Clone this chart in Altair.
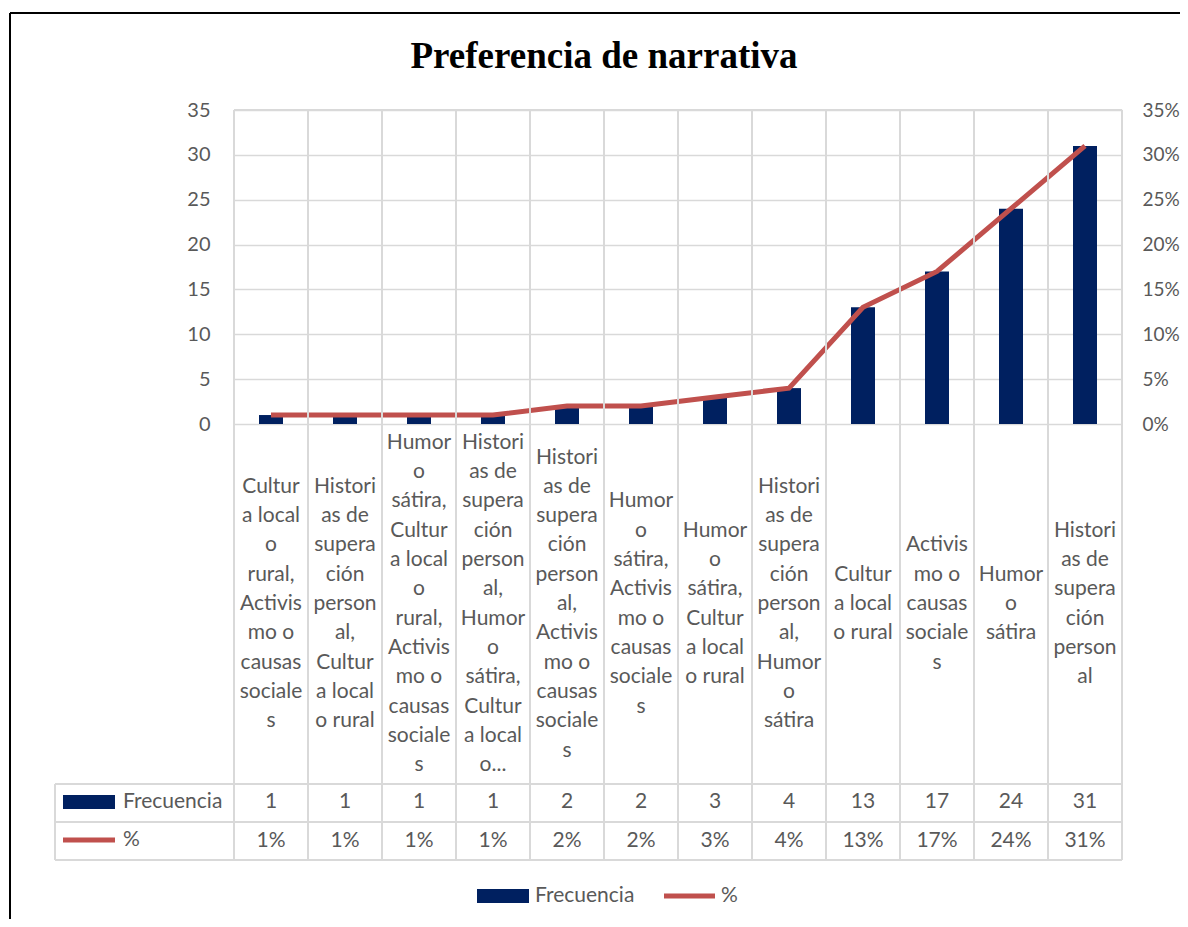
import altair as alt
import pandas as pd

categories = [
    "Cultura local o rural, Activismo o causas sociales",
    "Historias de superación personal, Cultura local o rural",
    "Humor o sátira, Cultura local o rural, Activismo o causas sociales",
    "Historias de superación personal, Humor o sátira, Cultura local o...",
    "Historias de superación personal, Activismo o causas sociales",
    "Humor o sátira, Activismo o causas sociales",
    "Humor o sátira, Cultura local o rural",
    "Historias de superación personal, Humor o sátira",
    "Cultura local o rural",
    "Activismo o causas sociales",
    "Humor o sátira",
    "Historias de superación personal",
]
label_lines = [
    ["Cultur", "a local", "o", "rural,", "Activis", "mo o", "causas", "sociale", "s"],
    ["Histori", "as de", "supera", "ción", "person", "al,", "Cultur", "a local", "o rural"],
    ["Humor", "o", "sátira,", "Cultur", "a local", "o", "rural,", "Activis", "mo o", "causas", "sociale", "s"],
    ["Histori", "as de", "supera", "ción", "person", "al,", "Humor", "o", "sátira,", "Cultur", "a local", "o..."],
    ["Histori", "as de", "supera", "ción", "person", "al,", "Activis", "mo o", "causas", "sociale", "s"],
    ["Humor", "o", "sátira,", "Activis", "mo o", "causas", "sociale", "s"],
    ["Humor", "o", "sátira,", "Cultur", "a local", "o rural"],
    ["Histori", "as de", "supera", "ción", "person", "al,", "Humor", "o", "sátira"],
    ["Cultur", "a local", "o rural"],
    ["Activis", "mo o", "causas", "sociale", "s"],
    ["Humor", "o", "sátira"],
    ["Histori", "as de", "supera", "ción", "person", "al"],
]
frecuencia = [1, 1, 1, 1, 2, 2, 3, 4, 13, 17, 24, 31]
porcentaje = [0.01, 0.01, 0.01, 0.01, 0.02, 0.02, 0.03, 0.04, 0.13, 0.17, 0.24, 0.31]
pct_labels = ["1%", "1%", "1%", "1%", "2%", "2%", "3%", "4%", "13%", "17%", "24%", "31%"]

df = pd.DataFrame({
    "cat": categories,
    "label": ["\n".join(l) for l in label_lines],
    "freq": frecuencia,
    "pct": porcentaje,
    "pct_label": pct_labels,
})

NAVY = "#002060"
RED = "#C0504D"
GRID = "#D9D9D9"
TXT = "#595959"
FONT = "Lato"
FS = 21
LH = 29.3

W, H = 888, 314

base = alt.Chart(df)
xenc = alt.X("cat:N", sort=categories,
             scale=alt.Scale(paddingInner=0, paddingOuter=0), axis=None)

bars = base.mark_bar(size=24, color=NAVY).encode(
    x=xenc,
    y=alt.Y("freq:Q", scale=alt.Scale(domain=[0, 35]),
            axis=alt.Axis(orient="left", values=list(range(0, 36, 5)), title=None,
                          grid=True, gridColor=GRID, gridWidth=1.3, domain=False,
                          ticks=False, labelPadding=24, labelFont=FONT,
                          labelFontSize=20, labelColor=TXT)),
)

line = base.mark_line(color=RED, strokeWidth=5).encode(
    x=xenc,
    y=alt.Y("pct:Q", scale=alt.Scale(domain=[0, 0.35]),
            axis=alt.Axis(orient="right", values=[i / 100 for i in range(0, 36, 5)],
                          format=".0%", title=None, grid=False, domain=False,
                          ticks=False, labelPadding=20, labelFont=FONT,
                          labelFontSize=19, labelColor=TXT)),
)

# category labels, block centred vertically in the label band (centre at 494 px)
cat_text = base.transform_calculate(
    nlines="length(split(datum.label, '\\n'))",
    ly=f"494 - (datum.nlines - 1) * {LH} / 2",
).mark_text(font=FONT, fontSize=FS, color=TXT, lineBreak="\n",
            lineHeight=LH, baseline="middle", align="center").encode(
    x=xenc, y=alt.Y("ly:Q", scale=None), text="label:N")

freq_text = base.mark_text(font=FONT, fontSize=FS, color=TXT, baseline="middle").encode(
    x=xenc, y=alt.value(692), text="freq:Q")

pct_text = base.mark_text(font=FONT, fontSize=FS, color=TXT, baseline="middle").encode(
    x=xenc, y=alt.value(731), text="pct_label:N")

# table grid: column boundaries
vlines = base.mark_rule(color=GRID, strokeWidth=2).encode(
    x=alt.X("cat:N", sort=categories, bandPosition=0,
            scale=alt.Scale(paddingInner=0, paddingOuter=0), axis=None),
    y=alt.value(0), y2=alt.value(750))

one = alt.Chart(pd.DataFrame({"k": [0]}))


def rule(x, x2, y, y2, color=GRID, width=2):
    return one.mark_rule(color=color, strokeWidth=width).encode(
        x=alt.value(x), x2=alt.value(x2), y=alt.value(y), y2=alt.value(y2))


def label(x, y, t, align="left"):
    return one.mark_text(font=FONT, fontSize=FS, color=TXT, align=align,
                         baseline="middle").encode(
        x=alt.value(x), y=alt.value(y), text=alt.value(t))


decor = [
    rule(W, W, 0, 750),
    rule(-179, -179, 674, 750),
    rule(0, W, 0, 0),
    rule(-179, W, 674, 674),
    rule(-179, W, 712, 712),
    rule(-179, W, 750, 750),
    # outer border
    rule(-224, -224, -97, 820, color="black", width=2),
    rule(-224, 960, -97, -97, color="black", width=2),
    # table legend keys
    one.mark_rect(color=NAVY).encode(x=alt.value(-171), x2=alt.value(-119),
                                     y=alt.value(685), y2=alt.value(699)),
    rule(-171, -119, 730, 730, color=RED, width=5),
    label(-111, 692, "Frecuencia"),
    label(-111, 730, "%"),
    # bottom legend
    one.mark_rect(color=NAVY).encode(x=alt.value(243), x2=alt.value(295),
                                     y=alt.value(779), y2=alt.value(793)),
    label(301, 786, "Frecuencia"),
    rule(430, 481, 786, 786, color=RED, width=5),
    label(487, 786, "%"),
    # title
    one.mark_text(font="Liberation Serif", fontSize=37, fontWeight="bold", color="black",
                  align="center", baseline="alphabetic").encode(
        x=alt.value(370), y=alt.value(-42), text=alt.value("Preferencia de narrativa")),
]

chart = alt.layer(bars, line, vlines, cat_text, freq_text, pct_text, *decor).resolve_scale(
    y="independent"
).properties(
    width=W, height=H,
    autosize=alt.AutoSizeParams(type="none"),
    padding={"left": 226, "top": 102, "right": 58, "bottom": 495},
).configure_view(stroke=None).configure(background="white")

chart.save("out.html", embed_options={"renderer": "svg", "actions": False})
